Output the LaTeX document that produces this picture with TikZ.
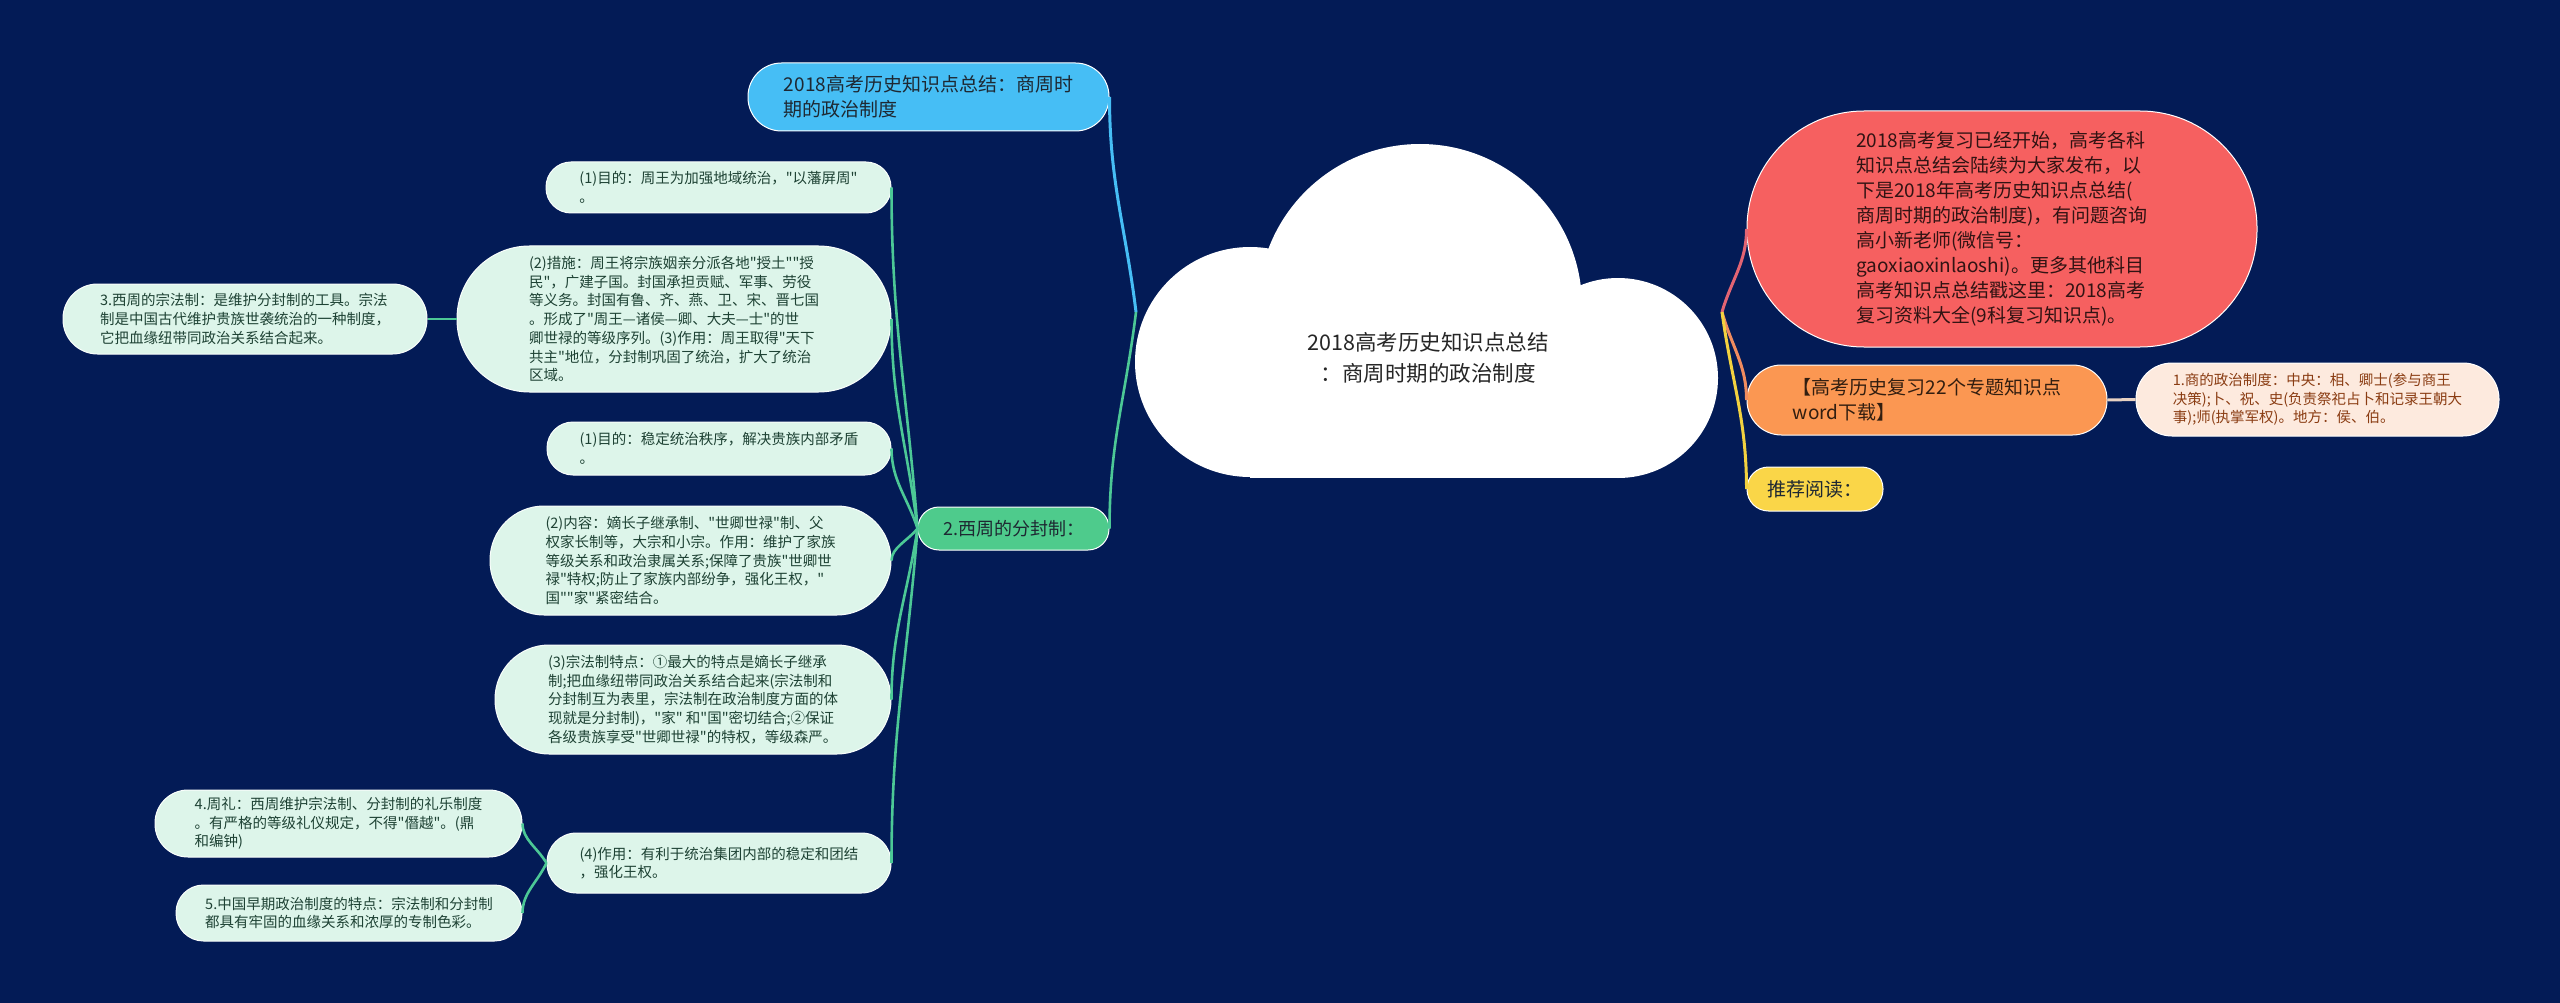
\documentclass[tikz,border=0pt]{standalone}
\usepackage{fontspec}
\setmainfont{Noto Sans CJK SC}[Ligatures=TeXOff]
\usetikzlibrary{calc}
\definecolor{bg}{RGB}{3,27,86}
\definecolor{blueN}{RGB}{70,190,245}
\definecolor{greenN}{RGB}{78,203,140}
\definecolor{greenL}{RGB}{76,200,150}
\definecolor{leaf}{RGB}{221,245,234}
\definecolor{leaftext}{RGB}{30,66,52}
\definecolor{redN}{RGB}{246,96,96}
\definecolor{redL}{RGB}{226,100,115}
\definecolor{orangeN}{RGB}{251,151,82}
\definecolor{orangeL}{RGB}{240,140,95}
\definecolor{peach}{RGB}{253,234,222}
\definecolor{peachtext}{RGB}{138,60,18}
\definecolor{peachL}{RGB}{232,210,195}
\definecolor{yellowN}{RGB}{250,214,72}
\definecolor{yellowL}{RGB}{243,210,64}
\definecolor{darktext}{RGB}{30,40,50}
\newcommand\conn[3]{\draw[#1] (#2) .. controls ($(#2)!0.4!(#3)$) and ($(#3)!0.4!(#3|-#2)$) .. (#3);}
\tikzset{
  box/.style={rectangle, rounded corners=#1, inner sep=0pt, align=left, draw=white, line width=1pt},
  main/.style={font=\fontsize{19}{25}\selectfont},
  small/.style={font=\fontsize{14.5}{18.7}\selectfont},
  leafbox/.style={box=#1, small, fill=leaf, text=leaftext, draw=white!85!leaf},
  bline/.style={draw=blueN, line width=3pt},
  gline/.style={draw=greenL, line width=2.6pt},
  rline/.style={draw=redL, line width=3pt},
  oline/.style={draw=orangeL, line width=3pt},
  yline/.style={draw=yellowL, line width=3pt},
  pline/.style={draw=peachL, line width=3pt},
}
\begin{document}
\begin{tikzpicture}[x=1pt,y=-1pt]
\fill[bg] (0,0) rectangle (2560,1003);
\useasboundingbox (0,0) rectangle (2560,1003);

% cloud
\begin{scope}
\clip (1100,100) rectangle (1760,478);
\fill[white] (1250,362) circle[radius=115pt];
\fill[white] (1420,306) circle[radius=162pt];
\fill[white] (1618,378) circle[radius=100pt];
\fill[white] (1250,330) rectangle (1618,478);
\end{scope}
\node[font=\fontsize{21.5}{31}\selectfont, align=center, text=black!85] (root) at (1428,358) {2018高考历史知识点总结\\：商周时期的政治制度};
\coordinate (JL) at (1136,312);
\coordinate (JR) at (1722,312);

% level 1 nodes
\node[box=33.5, main, fill=blueN, text=darktext, minimum width=361pt, minimum height=68pt] (blue) at (928.5,97) {2018高考历史知识点总结：商周时\\期的政治制度};
\node[box=21, font=\fontsize{18}{25}\selectfont, fill=greenN, text=darktext, minimum width=191pt, minimum height=43pt] (green) at (1013.5,528.5) {2.西周的分封制：};
\node[box=117, main, fill=redN, text=black!80!redN, minimum width=510pt, minimum height=236pt] (red) at (2002,229) {2018高考复习已经开始，高考各科\\知识点总结会陆续为大家发布，以\\下是2018年高考历史知识点总结(\\商周时期的政治制度)，有问题咨询\\高小新老师(微信号：\\gaoxiaoxinlaoshi)。更多其他科目\\高考知识点总结戳这里：2018高考\\复习资料大全(9科复习知识点)。};
\node[box=34.5, main, fill=orangeN, text=black!80!orangeN, minimum width=360pt, minimum height=70pt] (orange) at (1927,400) {【高考历史复习22个专题知识点\\word下载】};
\node[box=36, small, fill=peach, text=peachtext, minimum width=363pt, minimum height=73pt] (peach) at (2317.5,399.5) {1.商的政治制度：中央：相、卿士(参与商王\\决策);卜、祝、史(负责祭祀占卜和记录王朝大\\事);师(执掌军权)。地方：侯、伯。};
\node[box=21.5, main, fill=yellowN, text=darktext, minimum width=136pt, minimum height=44pt] (yellow) at (1815,489) {推荐阅读：};

% leaves
\node[leafbox=25, minimum width=345pt, minimum height=51pt] (A) at (718.5,187.5) {(1)目的：周王为加强地域统治，"以藩屏周"\\。};
\node[leafbox=72.5, minimum width=434pt, minimum height=146pt] (B) at (674,319) {(2)措施：周王将宗族姻亲分派各地"授土""授\\民"，广建子国。封国承担贡赋、军事、劳役\\等义务。封国有鲁、齐、燕、卫、宋、晋七国\\。形成了"周王—诸侯—卿、大夫—士"的世\\卿世禄的等级序列。(3)作用：周王取得"天下\\共主"地位，分封制巩固了统治，扩大了统治\\区域。};
\node[leafbox=34.5, minimum width=364pt, minimum height=70pt] (C) at (245,319) {3.西周的宗法制：是维护分封制的工具。宗法\\制是中国古代维护贵族世袭统治的一种制度，\\它把血缘纽带同政治关系结合起来。};
\node[leafbox=26, minimum width=344pt, minimum height=53pt] (D) at (719,448.5) {(1)目的：稳定统治秩序，解决贵族内部矛盾\\。};
\node[leafbox=54, minimum width=401pt, minimum height=109pt] (E) at (690.5,560.5) {(2)内容：嫡长子继承制、"世卿世禄"制、父\\权家长制等，大宗和小宗。作用：维护了家族\\等级关系和政治隶属关系;保障了贵族"世卿世\\禄"特权;防止了家族内部纷争，强化王权，"\\国""家"紧密结合。};
\node[leafbox=54, minimum width=396pt, minimum height=109pt] (F) at (693,699.5) {(3)宗法制特点：①最大的特点是嫡长子继承\\制;把血缘纽带同政治关系结合起来(宗法制和\\分封制互为表里，宗法制在政治制度方面的体\\现就是分封制)，"家" 和"国"密切结合;②保证\\各级贵族享受"世卿世禄"的特权，等级森严。};
\node[leafbox=29.5, minimum width=344pt, minimum height=60pt] (G) at (719,863) {(4)作用：有利于统治集团内部的稳定和团结\\，强化王权。};
\node[leafbox=33, minimum width=367pt, minimum height=67pt] (H) at (338.5,823.5) {4.周礼：西周维护宗法制、分封制的礼乐制度\\。有严格的等级礼仪规定，不得"僭越"。(鼎\\和编钟)};
\node[leafbox=27.5, minimum width=346pt, minimum height=56pt] (I) at (349,913) {5.中国早期政治制度的特点：宗法制和分封制\\都具有牢固的血缘关系和浓厚的专制色彩。};

% connectors
\conn{bline}{JL}{blue.east}
\conn{gline}{JL}{green.east}
\conn{rline}{JR}{red.west}
\conn{oline}{JR}{orange.west}
\conn{yline}{JR}{yellow.west}
\draw[pline] (orange.east) -- (peach.west);
\conn{gline}{green.west}{A.east}
\conn{gline}{green.west}{B.east}
\conn{gline}{green.west}{D.east}
\conn{gline}{green.west}{E.east}
\conn{gline}{green.west}{F.east}
\conn{gline}{green.west}{G.east}
\draw[gline] (B.west) -- (C.east);
\conn{gline}{G.west}{H.east}
\conn{gline}{G.west}{I.east}
\end{tikzpicture}
\end{document}
